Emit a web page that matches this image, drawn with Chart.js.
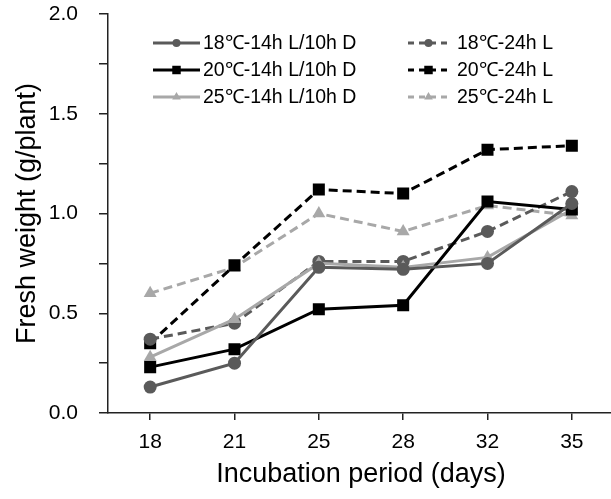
<!DOCTYPE html>
<html>
<head>
<meta charset="utf-8">
<script src="https://cdn.jsdelivr.net/npm/chart.js@4/dist/chart.umd.min.js"></script>
<style>
html,body{margin:0;padding:0;background:#fff;overflow:hidden;}
canvas{display:block;}
</style>
</head>
<body>
<canvas id="c" width="614" height="499" style="width:614px;height:499px;"></canvas>
<script>
const days = ['18', '21', '25', '28', '32', '35'];
const seriesNames = ['18℃-14h L/10h D', '18℃-24h L', '20℃-14h L/10h D', '20℃-24h L', '25℃-14h L/10h D', '25℃-24h L'];
const t18_14 = [0.13, 0.25, 0.73, 0.72, 0.75, 1.05];
const t18_24 = [0.37, 0.45, 0.76, 0.76, 0.91, 1.11];
const t20_14 = [0.23, 0.32, 0.52, 0.54, 1.06, 1.02];
const t20_24 = [0.35, 0.74, 1.12, 1.10, 1.32, 1.34];
const t25_14 = [0.28, 0.47, 0.75, 0.73, 0.78, 1.02];
const t25_24 = [0.60, 0.73, 1.00, 0.91, 1.04, 0.99];
const yTicks = [0, 0.5, 1.0, 1.5, 2.0];

const DARK = '#5a5a5a', BLACK = '#000000', LIGHT = '#a8a8a8';
const FONT = "'Liberation Sans', Arial, sans-serif";

function ds(label, data, color, style, radius, dashed) {
  return {
    label, data,
    borderColor: color, backgroundColor: color,
    pointBackgroundColor: color, pointBorderColor: color,
    pointStyle: style, pointRadius: radius, pointHoverRadius: radius,
    pointBorderWidth: 0,
    borderWidth: 3,
    borderDash: dashed ? [9, 5] : [],
    tension: 0, fill: false
  };
}

const datasets = [
  ds(seriesNames[0], t18_14, DARK, 'circle', 6.5, false),
  ds(seriesNames[2], t20_14, BLACK, 'rect', 8.5, false),
  ds(seriesNames[4], t25_14, LIGHT, 'triangle', 7.5, false),
  ds(seriesNames[1], t18_24, DARK, 'circle', 6.5, true),
  ds(seriesNames[3], t20_24, BLACK, 'rect', 8.5, true),
  ds(seriesNames[5], t25_24, LIGHT, 'triangle', 7.5, true)
];

function marker(ctx, style, x, y, r, color) {
  ctx.save();
  ctx.fillStyle = color;
  ctx.beginPath();
  if (style === 'circle') {
    ctx.arc(x, y, r, 0, Math.PI * 2);
  } else if (style === 'rect') {
    const s = r * Math.SQRT1_2;
    ctx.rect(x - s, y - s, 2 * s, 2 * s);
  } else {
    const t = Math.PI * 2 / 3;
    ctx.moveTo(x, y - r);
    ctx.lineTo(x + Math.sin(t) * r, y - Math.cos(t) * r);
    ctx.lineTo(x + Math.sin(2 * t) * r, y - Math.cos(2 * t) * r);
    ctx.closePath();
  }
  ctx.fill();
  ctx.restore();
}

const legendPlugin = {
  id: 'customLegend',
  afterDraw(chart) {
    const ctx = chart.ctx;
    const items = [
      {i: 0, col: 0, row: 0}, {i: 3, col: 1, row: 0},
      {i: 1, col: 0, row: 1}, {i: 4, col: 1, row: 1},
      {i: 2, col: 0, row: 2}, {i: 5, col: 1, row: 2}
    ];
    const cols = [{x0: 153, x1: 200, tx: 203}, {x0: 408, x1: 449, tx: 457}];
    const rows = [43, 70, 97];
    items.forEach(it => {
      const d = chart.data.datasets[it.i];
      const c = cols[it.col], y = rows[it.row];
      ctx.save();
      ctx.strokeStyle = d.borderColor;
      ctx.lineWidth = 3;
      ctx.setLineDash(d.borderDash.length ? [6, 5] : []);
      ctx.beginPath();
      ctx.moveTo(c.x0, y);
      ctx.lineTo(c.x1, y);
      ctx.stroke();
      ctx.restore();
      const r = d.pointStyle === 'circle' ? 4 : (d.pointStyle === 'rect' ? 6 : 5);
      marker(ctx, d.pointStyle, (c.x0 + c.x1) / 2, y, r, d.borderColor);
      ctx.save();
      ctx.fillStyle = '#000';
      ctx.font = '19.5px ' + FONT;
      ctx.textBaseline = 'middle';
      ctx.textAlign = 'left';
      ctx.fillText(d.label, c.tx, y + 1);
      ctx.restore();
    });
  }
};

new Chart(document.getElementById('c'), {
  type: 'line',
  data: { labels: days, datasets },
  options: {
    responsive: false,
    maintainAspectRatio: false,
    animation: false,
    devicePixelRatio: 1,
    layout: { autoPadding: false, padding: { top: 14, right: 0, left: 0, bottom: 0 } },
    plugins: { legend: { display: false }, tooltip: { enabled: false } },
    scales: {
      x: {
        type: 'category',
        offset: true,
        grid: { display: true, drawOnChartArea: false, drawTicks: true, tickLength: 7, color: '#222', lineWidth: 1.5, offset: false },
        border: { display: true, color: '#222', width: 1.5 },
        ticks: { color: '#000', font: { family: FONT, size: 21 }, padding: 10, maxRotation: 0 },
        title: { display: true, text: 'Incubation period (days)', color: '#000', font: { family: FONT, size: 27 }, padding: { top: 0, bottom: 8 } },
        afterFit(scale) { scale.height = 86; scale.paddingLeft = 0; scale.paddingRight = 0; }
      },
      y: {
        min: 0, max: 2,
        grid: { display: true, drawOnChartArea: false, drawTicks: true, tickLength: 9, color: '#222', lineWidth: 1.5 },
        border: { display: true, color: '#222', width: 1.5 },
        ticks: {
          stepSize: 0.25, color: '#000', font: { family: FONT, size: 21 }, padding: 21,
          callback(v) {
            const m = yTicks.find(t => Math.abs(t - v) < 1e-6);
            return m === undefined ? '' : m.toFixed(1);
          }
        },
        title: { display: true, text: 'Fresh weight (g/plant)', color: '#000', font: { family: FONT, size: 27 }, padding: { top: 11, bottom: 0 } },
        afterFit(scale) { scale.width = 108; scale.paddingTop = 0; scale.paddingBottom = 0; }
      }
    }
  },
  plugins: [legendPlugin]
});
</script>
</body>
</html>
